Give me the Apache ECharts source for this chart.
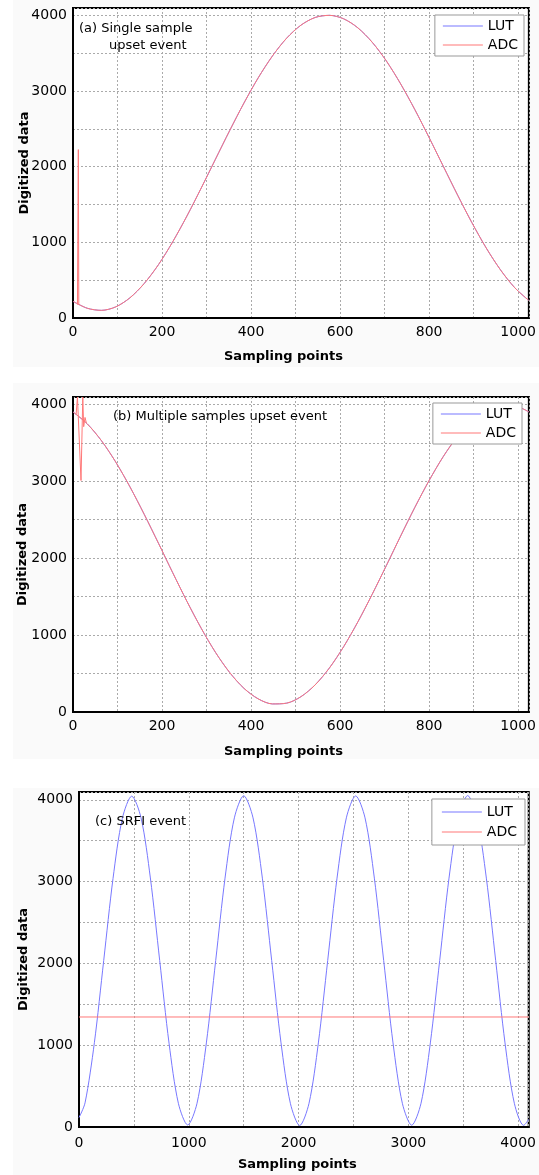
<!DOCTYPE html>
<html>
<head>
<meta charset="utf-8">
<script src="https://cdn.jsdelivr.net/npm/echarts@6/dist/echarts.min.js"></script>
<style>
  html, body { margin: 0; padding: 0; background: #fff; }
  #chart { width: 539px; height: 1175px; }
</style>
</head>
<body>
<div id="chart"></div>
<script>
// sampling points used for panels (a) and (b)
var samplesAB = [0, 32, 64, 96, 128, 160, 192, 224, 256, 288, 320, 352, 384, 416, 448, 480, 512,
  544, 576, 608, 640, 672, 704, 736, 768, 800, 832, 864, 896, 928, 960, 992, 1024];

// (a) single sample upset
var lutA = [220, 129, 101, 147, 267, 456, 705, 1007, 1348, 1717, 2098, 2477, 2840, 3173, 3462, 3698,
  3869, 3971, 3999, 3953, 3833, 3644, 3395, 3093, 2752, 2383, 2002, 1623, 1260, 927, 638, 402, 231];
var adcA = [220, 129, 101, 147, 267, 456, 705, 1007, 1348, 1717, 2098, 2477, 2840, 3173, 3462, 3698,
  3869, 3971, 3999, 3953, 3833, 3644, 3395, 3093, 2752, 2383, 2002, 1623, 1260, 927, 638, 402, 231];
var adcUpsetA = [[10, 178], [12, 2225], [13, 172]];

// (b) multiple samples upset
var lutB = [3902, 3747, 3527, 3250, 2927, 2570, 2194, 1811, 1438, 1089, 776, 513, 308, 171, 105, 115,
  199, 353, 573, 850, 1173, 1530, 1906, 2289, 2662, 3011, 3324, 3587, 3792, 3929, 3995, 3985, 3902];
var adcB = [3902, 3747, 3527, 3250, 2927, 2570, 2194, 1811, 1438, 1089, 776, 513, 308, 171, 105, 115,
  199, 353, 573, 850, 1173, 1530, 1906, 2289, 2662, 3011, 3324, 3587, 3792, 3929, 3995, 3985, 3902];
var adcUpsetB = [[7, 3870], [10, 4095], [13, 4095], [18, 3010], [22, 4095], [24, 3710], [27, 3830], [30, 3760]];

// (c) SRFI event
var samplesC = [0, 55, 140, 225, 310, 395, 480, 565, 650, 735, 820, 905, 990,
  1075, 1160, 1245, 1330, 1415, 1500, 1585, 1670, 1755, 1840, 1925, 2010,
  2095, 2180, 2265, 2350, 2435, 2520, 2605, 2690, 2775, 2860, 2945, 3030,
  3115, 3200, 3285, 3370, 3455, 3540, 3625, 3710, 3795, 3880, 3965, 4050, 4096];
var lutC = [115, 295, 1030, 2035, 3040, 3775, 4045, 3780, 3045, 2035, 1025, 290, 25,
  290, 1028, 2035, 3043, 3780, 4050, 3780, 3043, 2035, 1028, 290, 18,
  290, 1028, 2035, 3043, 3780, 4048, 3780, 3043, 2035, 1028, 290, 22,
  290, 1028, 2035, 3043, 3780, 4052, 3780, 3043, 2035, 1028, 290, 20, 95];
var adcC = [[0, 1345], [4096, 1345]];

var xMaxAB = 1024, xMaxC = 4096, yMax = 4096;

var LUT_COLOR = '#7878ff';
var ADC_COLOR = '#ff7878';
var FONT = 'DejaVu Sans';

function pairs(xs, ys) {
  return xs.map(function (x, i) { return [x, ys[i]]; });
}

function everyOther(step) {
  return function (v) { return v % step === 0 ? String(v) : ''; };
}

function makeX(idx, max, interval, labelStep, nameGap, namePad, margin) {
  return {
    gridIndex: idx, type: 'value', min: 0, max: max, interval: interval,
    name: 'Sampling points', nameLocation: 'middle', nameGap: nameGap, nameMoveOverlap: false,
    nameTextStyle: { fontFamily: FONT, fontSize: 13, fontWeight: 'bold', color: '#000', padding: [0, namePad, 0, 0] },
    axisLine: { show: true, lineStyle: { color: '#000', width: 2 } },
    axisTick: { show: false },
    axisLabel: { fontFamily: FONT, fontSize: 14, color: '#000', margin: margin, formatter: everyOther(labelStep) },
    splitLine: { show: true, lineStyle: { color: '#aaa', type: [2, 2], width: 1 } }
  };
}

function makeY(idx, nameGap) {
  return {
    gridIndex: idx, type: 'value', min: 0, max: yMax, interval: 500,
    name: 'Digitized data', nameLocation: 'middle', nameGap: nameGap, nameMoveOverlap: false,
    nameTextStyle: { fontFamily: FONT, fontSize: 13, fontWeight: 'bold', color: '#000' },
    axisLine: { show: true, lineStyle: { color: '#000', width: 2 } },
    axisTick: { show: false },
    axisLabel: { fontFamily: FONT, fontSize: 14, color: '#000', margin: 6, formatter: everyOther(1000) },
    splitLine: { show: true, lineStyle: { color: '#aaa', type: [2, 2], width: 1 } }
  };
}

function line(name, idx, data, color, smooth, z) {
  return {
    name: name, type: 'line', xAxisIndex: idx, yAxisIndex: idx,
    data: data, smooth: smooth, symbol: 'none', showSymbol: false,
    lineStyle: { color: color, width: 1 }, itemStyle: { color: color },
    z: z, silent: true
  };
}

function legendAt(top, right, pad, gap) {
  return {
    data: ['LUT', 'ADC'], orient: 'vertical', top: top, right: right,
    icon: 'rect', itemWidth: 40, itemHeight: 1, itemGap: gap,
    padding: pad,
    backgroundColor: '#fff', borderColor: '#999', borderWidth: 1, borderRadius: 0,
    textStyle: { fontFamily: FONT, fontSize: 14, color: '#000', lineHeight: 16 },
    selectedMode: false
  };
}

function note(text, left, top) {
  return { type: 'text', left: left, top: top, z: 100,
    style: { text: text, fill: '#000', font: '13px "DejaVu Sans"' } };
}

var chart = echarts.init(document.getElementById('chart'));
chart.setOption({
  animation: false,
  backgroundColor: '#fff',
  grid: [
    { left: 73, right: 8, top: 8, height: 310, show: true, backgroundColor: '#fff', borderColor: '#000', borderWidth: 2 },
    { left: 73, right: 9, top: 397, height: 315, show: true, backgroundColor: '#fff', borderColor: '#000', borderWidth: 2 },
    { left: 79, right: 9, top: 792, height: 335, show: true, backgroundColor: '#fff', borderColor: '#000', borderWidth: 2 }
  ],
  xAxis: [
    makeX(0, xMaxAB, 100, 200, 32, 35, 7),
    makeX(1, xMaxAB, 100, 200, 33, 35, 7),
    makeX(2, xMaxC, 500, 1000, 31, 13, 9)
  ],
  yAxis: [makeY(0, 42), makeY(1, 44), makeY(2, 49)],
  legend: [
    legendAt(15, 15, [3, 6, 3, 8], 3),
    legendAt(403, 17, [3, 6, 3, 8], 3),
    legendAt(799, 14, [5, 8, 5, 10], 4)
  ],
  graphic: [
    { type: 'rect', shape: { x: 13, y: 0, width: 526, height: 367 }, style: { fill: '#fafafa' }, z: -10, silent: true },
    { type: 'rect', shape: { x: 13, y: 383, width: 526, height: 376 }, style: { fill: '#fafafa' }, z: -10, silent: true },
    { type: 'rect', shape: { x: 13, y: 788, width: 526, height: 387 }, style: { fill: '#fafafa' }, z: -10, silent: true },
    note('(a) Single sample', 79, 22),
    note('upset event', 109, 39),
    note('(b) Multiple samples upset event', 113, 410),
    note('(c) SRFI event', 95, 815)
  ],
  series: [
    line('LUT', 0, pairs(samplesAB, lutA), LUT_COLOR, 0.3, 2),
    line('ADC', 0, pairs(samplesAB, adcA), ADC_COLOR, 0.3, 3),
    line('ADC', 0, adcUpsetA, ADC_COLOR, false, 3),
    line('LUT', 1, pairs(samplesAB, lutB), LUT_COLOR, 0.3, 2),
    line('ADC', 1, pairs(samplesAB, adcB), ADC_COLOR, 0.3, 3),
    line('ADC', 1, adcUpsetB, ADC_COLOR, false, 3),
    line('LUT', 2, pairs(samplesC, lutC), LUT_COLOR, 0.3, 2),
    line('ADC', 2, adcC, ADC_COLOR, false, 3)
  ]
});
</script>
</body>
</html>
